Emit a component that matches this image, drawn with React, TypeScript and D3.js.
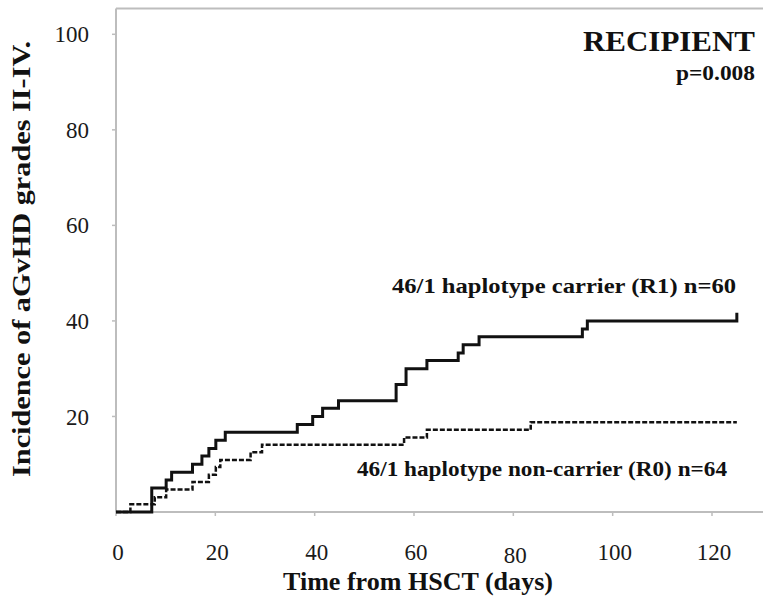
import React from "react";
import * as d3 from "d3";

// cumulative incidence (days, %)
const r1Days = [0, 7.2, 10.1, 11.2, 15.4, 17.3, 18.7, 20.1, 22.0, 36.5, 39.6, 41.6, 44.8, 56.4, 58.4, 62.6, 68.9, 69.9, 73.1, 93.9, 94.9, 125];
const r1Incidence = [0, 5.0, 6.7, 8.3, 10.0, 11.7, 13.3, 15.0, 16.7, 18.3, 20.0, 21.7, 23.3, 26.7, 30.0, 31.7, 33.3, 35.0, 36.7, 38.3, 40.0, 41.7];

const r0Days = [0, 2.9, 7.8, 10.1, 15.4, 18.7, 20.1, 21.0, 27.1, 29.4, 58.0, 62.6, 83.5, 125];
const r0Incidence = [0, 1.6, 3.1, 4.7, 6.3, 7.8, 9.4, 10.9, 12.5, 14.1, 15.6, 17.2, 18.8, 18.8];

const xTicks = [0, 20, 40, 60, 80, 100, 120];
const yTicks = [20, 40, 60, 80, 100];

const seriesLabels = ["46/1 haplotype carrier (R1) n=60", "46/1 haplotype non-carrier (R0) n=64"];

const W = 763;
const H = 599;
const font = "'Liberation Serif', 'Times New Roman', 'DejaVu Serif', serif";
const axisColor = "#bdbdbd";
const ink = "#111";

export default function App() {
  const x = d3.scaleLinear().domain([0, 120]).range([116, 712]);
  const y = d3.scaleLinear().domain([0, 100]).range([512, 34.3]);
  const plotTop = 8.5;

  const line = d3
    .line<[number, number]>()
    .x(d => x(d[0]))
    .y(d => y(d[1]))
    .curve(d3.curveStepAfter);

  const r1 = line(r1Days.map((d, i) => [d, r1Incidence[i]]));
  const r0 = line(r0Days.map((d, i) => [d, r0Incidence[i]]));

  return (
    <svg width={W} height={H} style={{ position: "absolute", left: 0, top: 0, background: "#fff", fontFamily: font }}>
      {/* frame */}
      <line x1={x(0)} x2={W} y1={plotTop} y2={plotTop} stroke={axisColor} strokeWidth={2} />
      <line x1={x(0)} x2={x(0)} y1={plotTop} y2={y(0)} stroke={axisColor} strokeWidth={2} />
      <line x1={x(0)} x2={W} y1={y(0)} y2={y(0)} stroke={axisColor} strokeWidth={2} />

      {yTicks.map(t => (
        <g key={"y" + t}>
          <line x1={x(0) - 4} x2={x(0)} y1={y(t)} y2={y(t)} stroke={axisColor} strokeWidth={1.5} />
          <text x={89} y={y(t)} dy="0.35em" textAnchor="end" fontSize={23} fill="#1a1a1a">{t}</text>
        </g>
      ))}
      {xTicks.map(t => (
        <g key={"x" + t}>
          <line x1={x(t)} x2={x(t)} y1={y(0)} y2={y(0) + 4} stroke={axisColor} strokeWidth={1.5} />
          <text x={x(t) + 2} y={y(0) + 40 + (t === 80 ? 3 : 0)} dy="0.35em" textAnchor="middle" fontSize={23} fill="#1a1a1a">{t}</text>
        </g>
      ))}

      <path d={r0 ?? ""} fill="none" stroke={ink} strokeWidth={2.5} strokeDasharray="5,2" />
      <path d={r1 ?? ""} fill="none" stroke={ink} strokeWidth={3} />

      <text x={418} y={581} dy="0.35em" textAnchor="middle" fontSize={26} fontWeight="bold" fill={ink}
        textLength={270} lengthAdjust="spacingAndGlyphs">Time from HSCT (days)</text>
      <text transform={`translate(21,259) rotate(-90)`} dy="0.35em" textAnchor="middle" fontSize={26} fontWeight="bold" fill={ink}
        textLength={436} lengthAdjust="spacingAndGlyphs">Incidence of aGvHD grades II-IV.</text>

      <text x={755} y={51} textAnchor="end" fontSize={30} fontWeight="bold" fill={ink}
        textLength={172} lengthAdjust="spacingAndGlyphs">RECIPIENT</text>
      <text x={755} y={72} dy="0.35em" textAnchor="end" fontSize={22} fontWeight="bold" fill={ink}
        textLength={79} lengthAdjust="spacingAndGlyphs">p=0.008</text>

      <text x={736} y={285} dy="0.35em" textAnchor="end" fontSize={22} fontWeight="bold" fill={ink}
        textLength={344} lengthAdjust="spacingAndGlyphs">{seriesLabels[0]}</text>
      <text x={727} y={468} dy="0.35em" textAnchor="end" fontSize={22} fontWeight="bold" fill={ink}
        textLength={370} lengthAdjust="spacingAndGlyphs">{seriesLabels[1]}</text>
    </svg>
  );
}
